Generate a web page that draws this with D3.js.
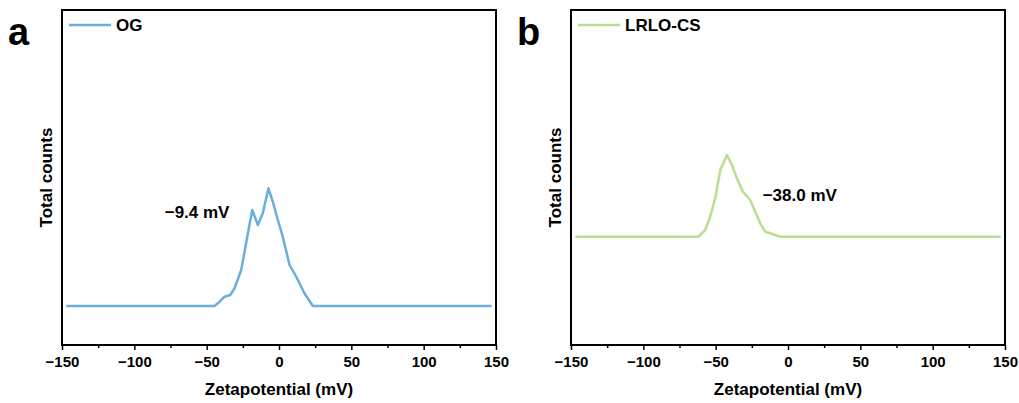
<!DOCTYPE html>
<html>
<head>
<meta charset="utf-8">
<script src="https://cdn.jsdelivr.net/npm/d3@7"></script>
<style>
  body { margin: 0; background: #fff; }
  text { font-family: Arial, "Liberation Sans", sans-serif; font-weight: bold; }
</style>
</head>
<body>
<svg width="1019" height="403"></svg>
<script>
// zeta potential distributions (counts, arbitrary units)
var ogZeta   = [-147, -44.5, -42.3, -37.6, -33.7, -30.7, -26.1, -23.8, -21.5, -18.5, -14.6, -11.2, -7.3, -4.3, -0.8, 2.6, 7.3, 11.9, 17.6, 23.4, 147];
var ogCounts = [0, 0, 270, 930, 1100, 1770, 3600, 5430, 7270, 9600, 8100, 9270, 11770, 10430, 8600, 6930, 4100, 2930, 1270, 0, 0];

var csZeta   = [-147, -61.9, -57.2, -53.8, -50.3, -46.8, -42.2, -38.8, -35.3, -31.2, -26.1, -22.7, -19.2, -15.8, -12.3, -5.4, 147];
var csCounts = [0, 0, 670, 2000, 3840, 6670, 8170, 7170, 5840, 4500, 3670, 2500, 1340, 500, 340, 0, 0];

var xTicks = [-150, -100, -50, 0, 50, 100, 150];

var svg = d3.select("svg");

var panels = [
  {letter: "a", name: "OG", color: "#6aafdb", xs: ogZeta, ys: ogCounts,
   left: 62, right: 496, yDomain: [-3900, 29600],
   note: "\u22129.4 mV", noteAt: [-79, 8800]},
  {letter: "b", name: "LRLO-CS", color: "#badc95", xs: csZeta, ys: csCounts,
   left: 571, right: 1005, yDomain: [-10830, 22670],
   note: "\u221238.0 mV", noteAt: [-17.5, 3570]}
];

var plotTop = 10, plotBottom = 345;

panels.forEach(function(p) {
  var x = d3.scaleLinear().domain([-150, 150]).range([p.left, p.right]);
  var y = d3.scaleLinear().domain(p.yDomain).range([plotBottom, plotTop]);
  var g = svg.append("g");

  // minor ticks every 25
  g.append("g")
    .attr("transform", "translate(0," + plotBottom + ")")
    .call(d3.axisBottom(x).tickValues(d3.range(-125, 150, 50)).tickSize(3).tickFormat(""))
    .call(a => a.select(".domain").remove())
    .selectAll("line").attr("stroke-width", 1.5);

  var ax = g.append("g")
    .attr("transform", "translate(0," + plotBottom + ")")
    .call(d3.axisBottom(x).tickValues(xTicks).tickSize(5).tickPadding(6)
      .tickFormat(d => d < 0 ? "\u2212" + Math.abs(d) : d));
  ax.select(".domain").remove();
  ax.selectAll("line").attr("stroke-width", 1.5);
  ax.selectAll("text").attr("font-size", 15).attr("fill", "#000")
    .style("font-family", "Arial, 'Liberation Sans', sans-serif").style("font-weight", "bold");

  // frame
  g.append("rect")
    .attr("x", p.left).attr("y", plotTop)
    .attr("width", p.right - p.left).attr("height", plotBottom - plotTop)
    .attr("fill", "none").attr("stroke", "#000").attr("stroke-width", 2);

  var line = d3.line().x(d => x(d[0])).y(d => y(d[1]));
  g.append("path")
    .datum(d3.zip(p.xs, p.ys))
    .attr("d", line)
    .attr("fill", "none")
    .attr("stroke", p.color)
    .attr("stroke-width", 2.5)
    .attr("stroke-linejoin", "round");

  // legend
  g.append("line")
    .attr("x1", p.left + 7).attr("x2", p.left + 49)
    .attr("y1", 25).attr("y2", 25)
    .attr("stroke", p.color).attr("stroke-width", 2.5);
  g.append("text")
    .attr("x", p.left + 54).attr("y", 31)
    .attr("font-size", 17).text(p.name);

  // peak annotation
  g.append("text")
    .attr("x", x(p.noteAt[0])).attr("y", y(p.noteAt[1]))
    .attr("font-size", 17).text(p.note);

  // axis titles
  g.append("text")
    .attr("x", (p.left + p.right) / 2).attr("y", 395)
    .attr("text-anchor", "middle").attr("font-size", 17)
    .text("Zetapotential (mV)");
  g.append("text")
    .attr("transform", "translate(" + (p.left - 10) + "," + ((plotTop + plotBottom) / 2) + ") rotate(-90)")
    .attr("text-anchor", "middle").attr("font-size", 17)
    .text("Total counts");

  // panel letter
  g.append("text")
    .attr("x", p.left - 54).attr("y", 45)
    .attr("font-size", 38).text(p.letter);
});
</script>
</body>
</html>
